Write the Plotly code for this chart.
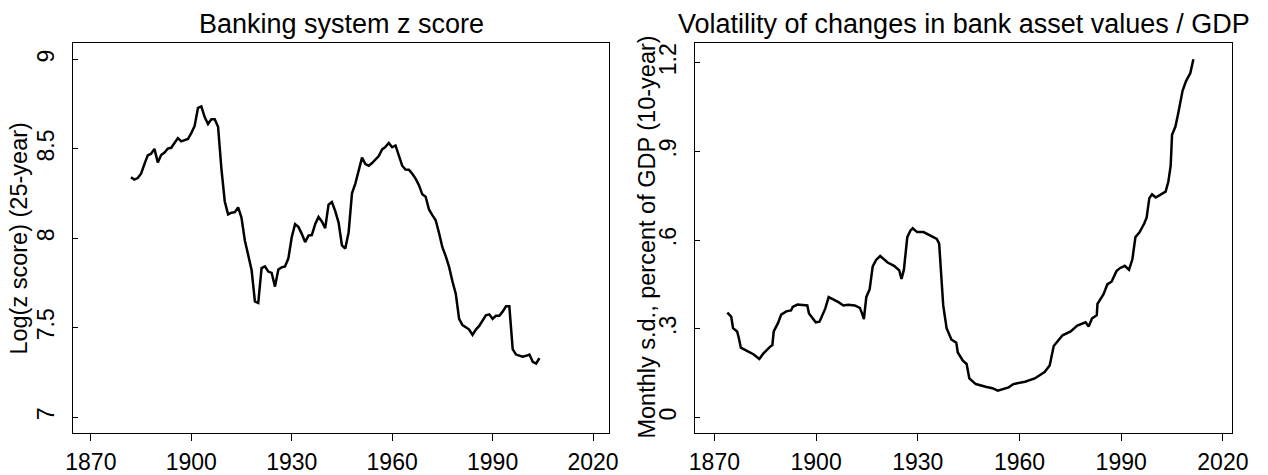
import plotly.graph_objects as go

# ---- data ----
left_years = list(range(1882, 2005))
left_values = [
    8.342, 8.328, 8.337, 8.361, 8.415, 8.464, 8.473, 8.500, 8.424, 8.466,  # 1882-1891
    8.479, 8.502, 8.506, 8.537, 8.560, 8.542, 8.548, 8.555, 8.588, 8.628,  # 1892-1901
    8.729, 8.737, 8.678, 8.639, 8.666, 8.666, 8.624, 8.388, 8.206, 8.134,  # 1902-1911
    8.143, 8.146, 8.173, 8.115, 7.988, 7.897, 7.825, 7.647, 7.639, 7.834,  # 1912-1921
    7.843, 7.814, 7.807, 7.730, 7.825, 7.838, 7.843, 7.888, 8.006, 8.079,  # 1922-1931
    8.064, 8.025, 7.979, 8.015, 8.018, 8.079, 8.119, 8.094, 8.057, 8.188,  # 1932-1941
    8.203, 8.152, 8.088, 7.961, 7.943, 8.034, 8.252, 8.306, 8.379, 8.451,  # 1942-1951
    8.415, 8.406, 8.421, 8.442, 8.460, 8.497, 8.511, 8.533, 8.509, 8.519,  # 1952-1961
    8.460, 8.406, 8.384, 8.383, 8.361, 8.334, 8.297, 8.246, 8.233, 8.161,  # 1962-1971
    8.130, 8.101, 8.030, 7.950, 7.900, 7.840, 7.760, 7.690, 7.550, 7.515,  # 1972-1981
    7.503, 7.490, 7.460, 7.490, 7.510, 7.540, 7.570, 7.575, 7.550, 7.567,  # 1982-1991
    7.567, 7.590, 7.620, 7.620, 7.380, 7.350, 7.343, 7.338, 7.343, 7.350,  # 1992-2001
    7.310, 7.300, 7.330,                                                    # 2002-2004
]

right_years = [
    1873.8, 1874.95, 1875.5, 1876.7, 1877.2, 1877.8, 1879.6, 1881.5, 1883.25, 1884.4,
    1886.3, 1887.1, 1887.5, 1888.75, 1889.7, 1891.2, 1892.6, 1893.1, 1894.5, 1896.0,
    1897.4, 1897.9, 1898.9, 1899.9, 1901.0, 1901.8, 1902.7, 1903.7, 1905.2, 1906.6,
    1908.05, 1909.5, 1911.4, 1912.9, 1913.55, 1914.1, 1914.8, 1915.8, 1916.7, 1917.7,
    1918.9, 1920.1, 1921.1, 1923.0, 1924.5, 1925.2, 1925.9, 1926.9, 1927.8, 1928.5,
    1929.8, 1931.7, 1933.6, 1935.6, 1936.3, 1936.8, 1937.5, 1938.5, 1939.9, 1941.35,
    1941.8, 1943.3, 1944.4, 1945.2, 1947.1, 1950.0, 1952.0, 1953.6, 1956.8, 1958.2,
    1961.6, 1964.5, 1967.4, 1968.9, 1970.1, 1972.7, 1975.1, 1977.05, 1979.5, 1980.4,
    1981.4, 1982.8, 1983.0, 1984.8, 1985.9, 1987.2, 1988.6, 1989.6, 1991.05, 1992.3,
    1993.3, 1994.2, 1995.4, 1996.8, 1997.5, 1998.3, 1999.1, 2000.2, 2001.7, 2003.1,
    2003.9, 2004.6, 2005.0, 2006.0, 2006.8, 2007.5, 2008.1, 2009.1, 2010.4, 2011.3,
]
right_values = [
    0.355, 0.341, 0.302, 0.291, 0.269, 0.236, 0.225, 0.214, 0.198, 0.216,
    0.238, 0.245, 0.291, 0.319, 0.348, 0.359, 0.362, 0.374, 0.382, 0.381,
    0.379, 0.352, 0.335, 0.322, 0.324, 0.346, 0.368, 0.407, 0.399, 0.390,
    0.379, 0.381, 0.379, 0.371, 0.352, 0.333, 0.407, 0.434, 0.511, 0.533,
    0.546, 0.533, 0.524, 0.513, 0.498, 0.469, 0.500, 0.610, 0.632, 0.640,
    0.627, 0.627, 0.615, 0.604, 0.588, 0.511, 0.379, 0.302, 0.264, 0.253,
    0.220, 0.192, 0.181, 0.132, 0.113, 0.104, 0.099, 0.091, 0.102, 0.113,
    0.121, 0.132, 0.154, 0.176, 0.242, 0.278, 0.291, 0.311, 0.322, 0.308,
    0.335, 0.346, 0.384, 0.417, 0.450, 0.460, 0.495, 0.505, 0.513, 0.500,
    0.535, 0.610, 0.626, 0.656, 0.676, 0.742, 0.755, 0.744, 0.755, 0.764,
    0.797, 0.852, 0.956, 0.984, 1.027, 1.072, 1.105, 1.137, 1.165, 1.212,
]

x_ticks = [1870, 1900, 1930, 1960, 1990, 2020]
left_yticks = [7, 7.5, 8, 8.5, 9]
left_yticktext = ["7", "7.5", "8", "8.5", "9"]
right_yticks = [0, 0.3, 0.6, 0.9, 1.2]
right_yticktext = ["0", ".3", ".6", ".9", "1.2"]

left_title = "Banking system z score"
right_title = "Volatility of changes in bank asset values / GDP"
left_ytitle = "Log(z score) (25-year)"
right_ytitle = "Monthly s.d., percent of GDP (10-year)"

# ---- figure ----
W, H = 1268, 475
FONT = "Liberation Sans, Arial, sans-serif"


def px(sx):
    return sx / W


def py(sy):
    return (H - sy) / H


fig = go.Figure()
fig.add_trace(go.Scatter(x=left_years, y=left_values, mode="lines",
                         line=dict(color="black", width=2.5),
                         xaxis="x", yaxis="y", showlegend=False))
fig.add_trace(go.Scatter(x=right_years, y=right_values, mode="lines",
                         line=dict(color="black", width=2.5),
                         xaxis="x2", yaxis="y2", showlegend=False))

ydom = [py(444.5), py(44)]
lx = [px(66.7), px(612.7)]
rx = [px(700), px(1248)]

common_x = dict(showline=True, linecolor="black", linewidth=1, mirror=True,
                ticks="outside", ticklen=7, tickwidth=1, tickcolor="black",
                tickvals=x_ticks, showgrid=False, zeroline=False,
                tickfont=dict(family=FONT, size=23, color="black"),
                ticklabelstandoff=1)
common_y = dict(showline=True, linecolor="black", linewidth=1, mirror=True,
                ticks="inside", ticklen=5, tickwidth=1, tickcolor="black",
                showgrid=False, zeroline=False, tickangle=-90,
                tickfont=dict(family=FONT, size=23, color="black"),
                ticklabelstandoff=9)

fig.update_layout(
    width=W, height=H, autosize=False,
    margin=dict(l=0, r=0, t=0, b=0),
    paper_bgcolor="white", plot_bgcolor="white",
    font=dict(family=FONT, color="black"),
    xaxis=dict(domain=lx, range=[1864.8, 2024.8], anchor="y", **common_x),
    yaxis=dict(domain=ydom, range=[6.910, 9.0926], anchor="x",
               tickvals=left_yticks, ticktext=left_yticktext, **common_y),
    xaxis2=dict(domain=rx, range=[1864.2, 2022.8], anchor="y2", **common_x),
    yaxis2=dict(domain=ydom, range=[-0.0534, 1.267], anchor="x2",
                tickvals=right_yticks, ticktext=right_yticktext, **common_y),
    annotations=[
        dict(text=left_title, xref="paper", yref="paper",
             x=(lx[0] + lx[1]) / 2, y=py(25), xanchor="center", yanchor="middle",
             showarrow=False, font=dict(family=FONT, size=27, color="black")),
        dict(text=right_title, xref="paper", yref="paper",
             x=(rx[0] + rx[1]) / 2, y=py(25), xanchor="center", yanchor="middle",
             showarrow=False, font=dict(family=FONT, size=27, color="black")),
        dict(text=left_ytitle, xref="paper", yref="paper", textangle=-90,
             x=px(11), y=py(245), xanchor="center", yanchor="middle",
             showarrow=False, font=dict(family=FONT, size=23.5, color="black")),
        dict(text=right_ytitle, xref="paper", yref="paper", textangle=-90,
             x=px(651), y=py(243), xanchor="center", yanchor="middle",
             showarrow=False, font=dict(family=FONT, size=23.5, color="black")),
    ],
)

# remove the browser's default 8px page margin so the figure starts at (0, 0)
fig.write_html("out.html", config={"displayModeBar": False},
               post_script="document.body.style.margin='0';")
